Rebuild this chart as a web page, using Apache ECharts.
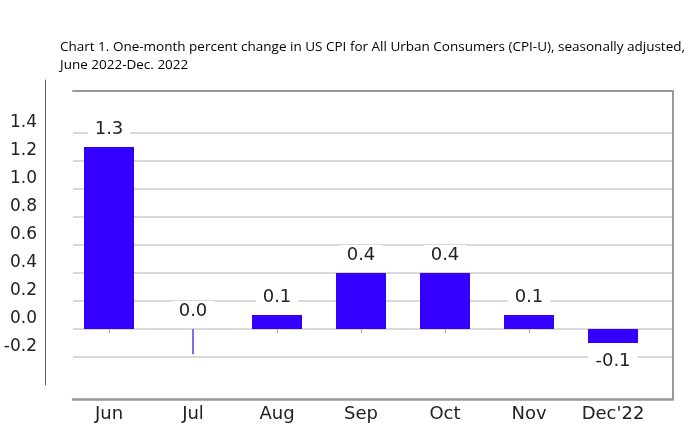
<!DOCTYPE html>
<html><head><meta charset="utf-8">
<script src="https://cdn.jsdelivr.net/npm/echarts@6/dist/echarts.min.js"></script>
<style>html,body{margin:0;padding:0;background:#fff}#c{width:690px;height:441px}</style>
</head><body><div id="c"></div>
<script>
const categories = ['Jun', 'Jul', 'Aug', 'Sep', 'Oct', 'Nov', "Dec'22"];
const values = [1.3, 0.0, 0.1, 0.4, 0.4, 0.1, -0.1];
const julMarker = [null, -0.18, null, null, null, null, null];
const yTicks = [-0.2, 0, 0.2, 0.4, 0.6, 0.8, 1.0, 1.2, 1.4];
const yMin = -0.5, yMax = 1.7;
const titleLines = [
  'Chart 1. One-month percent change in US CPI for All Urban Consumers (CPI-U), seasonally adjusted,',
  'June 2022-Dec. 2022'
];

const FONT = 'DejaVu Sans';
const chart = echarts.init(document.getElementById('c'), null, { renderer: 'canvas' });
const off = () => ({ show: false });
const isTick = v => yTicks.some(t => Math.abs(t - v) < 1e-6);
const frameLine = w => ({ show: true, onZero: false, lineStyle: { color: '#999', width: w } });

chart.setOption({
  animation: false,
  backgroundColor: '#fff',
  title: {
    text: titleLines.join('\n'),
    left: 55, top: 33,
    textStyle: { fontFamily: 'Open Sans', fontSize: 13.5, fontWeight: 'normal', color: '#000', lineHeight: 18 }
  },
  grid: [
    { left: 67, right: 35, top: 91, bottom: 42 },   // bars
    { left: 73, right: 17, top: 133, bottom: 84 },  // gridlines (-0.2 .. 1.4)
    { left: 45, right: 640, top: 67, bottom: 38 },  // y tick labels
    { left: 45, right: 644, top: 80, bottom: 56 },  // left vertical rule
    { left: 73, right: 17, top: 91, bottom: 42 }    // frame
  ],
  xAxis: [
    { gridIndex: 0, type: 'category', data: categories,
      axisLine: { show: false },
      axisTick: { show: true, alignWithLabel: true, length: 4, lineStyle: { color: '#aaa' } },
      axisLabel: { fontFamily: FONT, fontSize: 18, color: '#222', margin: 6 },
      splitLine: off() },
    { gridIndex: 1, type: 'value', min: 0, max: 1, show: false },
    { gridIndex: 2, type: 'value', show: false },
    { gridIndex: 3, type: 'value', show: false },
    { gridIndex: 0, type: 'category', data: categories, show: false },
    { gridIndex: 4, type: 'value', min: 0, max: 1, position: 'bottom',
      axisLine: frameLine(2.5), axisTick: off(), axisLabel: off(), splitLine: off() },
    { gridIndex: 4, type: 'value', min: 0, max: 1, position: 'top',
      axisLine: frameLine(2), axisTick: off(), axisLabel: off(), splitLine: off() }
  ],
  yAxis: [
    { gridIndex: 0, type: 'value', min: yMin, max: yMax, show: false },
    { gridIndex: 1, type: 'value', min: yTicks[0], max: yTicks[yTicks.length - 1], interval: 0.2,
      axisLine: off(), axisTick: off(), axisLabel: off(),
      splitLine: { show: true, lineStyle: { color: '#cdcdcd', width: 1.5 } } },
    { gridIndex: 2, type: 'value', min: -0.6, max: 1.8, interval: 0.2, position: 'left',
      axisLine: off(), axisTick: off(), splitLine: off(),
      axisLabel: { fontFamily: FONT, fontSize: 17, color: '#222', margin: 8,
        formatter: v => isTick(v) ? v.toFixed(1) : '' } },
    { gridIndex: 3, type: 'value', min: 0, max: 1, position: 'left',
      axisLine: { show: true, onZero: false, lineStyle: { color: '#666', width: 1 } },
      axisTick: off(), axisLabel: off(), splitLine: off() },
    { gridIndex: 4, type: 'value', min: yMin, max: yMax, position: 'right',
      axisLine: frameLine(2), axisTick: off(), axisLabel: off(), splitLine: off() }
  ],
  series: [
    { type: 'bar', xAxisIndex: 0, yAxisIndex: 0, barWidth: 50, z: 3,
      itemStyle: { color: '#3300ff' },
      data: values.map(v => ({ value: v, label: { position: v < 0 ? 'bottom' : 'top' } })),
      label: { show: true, fontFamily: FONT, fontSize: 18, color: '#222',
        backgroundColor: '#fff', padding: [1, 7], distance: 8,
        formatter: p => p.value.toFixed(1) } },
    { type: 'bar', xAxisIndex: 4, yAxisIndex: 0, barWidth: 2, z: 3,
      itemStyle: { color: '#7d6ff2' }, data: julMarker }
  ]
});
</script></body></html>
